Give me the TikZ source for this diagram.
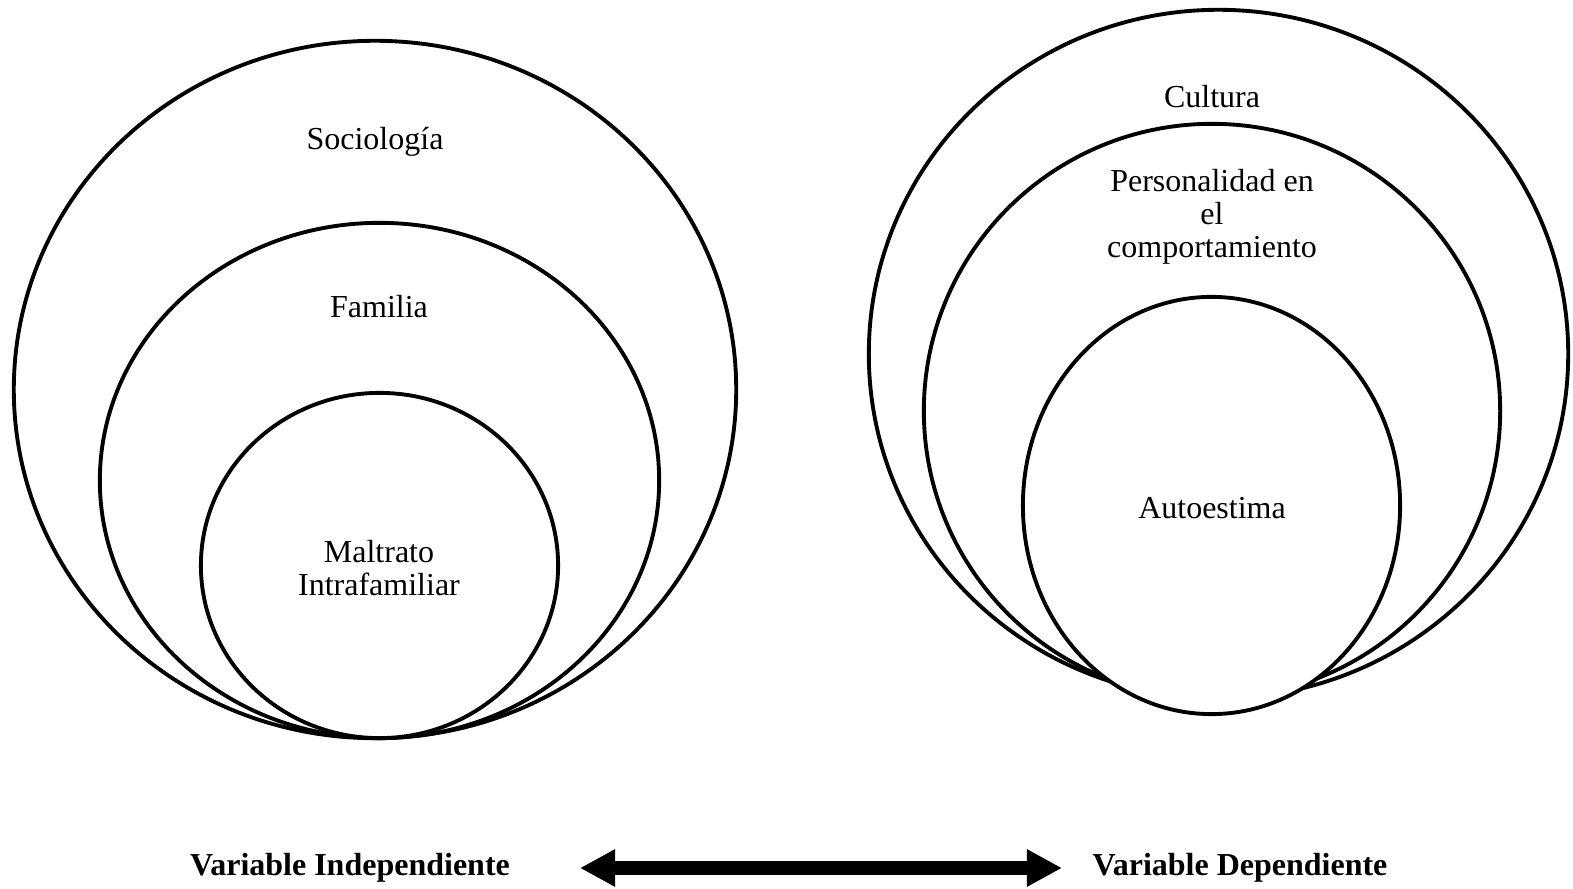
\documentclass[tikz,border=0pt]{standalone}
\usepackage{fontspec}
\setmainfont{Liberation Serif}
\usetikzlibrary{shapes.geometric,arrows.meta}
\tikzset{
  ring/.style={draw, ellipse, line width=1.1pt, inner sep=0pt, fill=white},
  lbl/.style={align=center, font=\fontsize{9.1}{9.3}\selectfont},
  varlbl/.style={font=\fontsize{9.1}{10}\selectfont\bfseries}
}
\begin{document}
\begin{tikzpicture}[x=0.01cm, y=-0.01cm]
    \useasboundingbox (0,0) rectangle (1573,889);
    % left side
    \node[ring, minimum width=7.22cm, minimum height=6.97cm] (soc) at (375, 389.5) {};
    \node[ring, minimum width=5.59cm, minimum height=5.15cm] (fam) at (379.5, 480.5) {};
    \node[ring, minimum width=3.57cm, minimum height=3.45cm] (mal) at (379.5, 565.5) {};
    \node[lbl] (tsoc) at (375, 142) {Sociología};
    \node[lbl] (tfam) at (379, 307) {Familia};
    \node[lbl] (tmal) at (379, 568) {Maltrato\\Intrafamiliar};
    % right side
    \node[ring, minimum width=6.99cm, minimum height=6.88cm] (cul) at (1218.5, 354) {};
    \node[ring, minimum width=5.76cm, minimum height=5.74cm] (per) at (1212, 411) {};
    \node[ring, minimum width=3.77cm, minimum height=4.17cm] (aut) at (1211.5, 505.5) {};
    \node[lbl] (tcul) at (1212, 97) {Cultura};
    \node[lbl] (tper) at (1212, 217) {Personalidad en\\el\\comportamiento};
    \node[lbl] (taut) at (1212, 508) {Autoestima};
    % bottom
    \node[varlbl] (vi) at (350, 868) {Variable Independiente};
    \node[varlbl] (vd) at (1240, 868) {Variable Dependiente};
    \coordinate (a1) at (580, 868);
    \coordinate (a2) at (1062, 868);
    \draw[line width=0.13cm, {Triangle[length=0.35cm, width=0.35cm]}-{Triangle[length=0.35cm, width=0.35cm]}] (a1) -- (a2);
\end{tikzpicture}
\end{document}
